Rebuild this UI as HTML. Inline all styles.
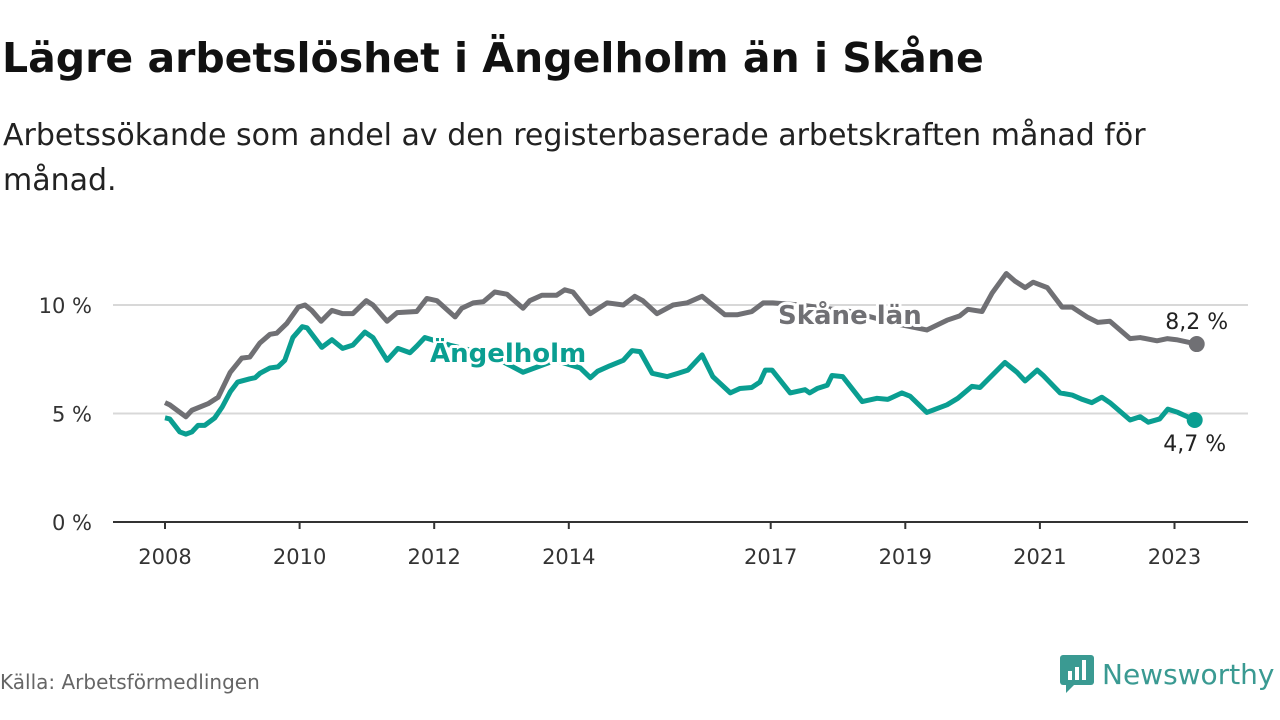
<!DOCTYPE html>
<html><head><meta charset="utf-8"><style>
body{margin:0;width:1280px;height:720px;background:#fff;font-family:"DejaVu Sans","Liberation Sans",sans-serif;overflow:hidden;position:relative}
h1{position:absolute;left:2px;top:34px;margin:0;font-size:41px;font-weight:bold;color:#111;white-space:nowrap}
.sub{position:absolute;left:3px;top:113px;font-size:30px;color:#222;line-height:45px;width:1200px}
.src{position:absolute;left:0;top:670px;font-size:20px;color:#666}
.logo{position:absolute;left:1060px;top:655px;display:flex;align-items:center;font-size:28px;color:#3a9a92}
</style></head><body>
<h1>Lägre arbetslöshet i Ängelholm än i Skåne</h1>
<div class="sub">Arbetssökande som andel av den registerbaserade arbetskraften månad för månad.</div>
<svg id="chart" width="1280" height="720" style="position:absolute;left:0;top:0"></svg>
<div class="src">Källa: Arbetsförmedlingen</div>
<div class="logo"><svg width="34" height="38" viewBox="0 0 34 38"><rect x="0" y="0" width="34" height="30" rx="3" fill="#3a9a92"/><path d="M6 30 L6 38 L14 30Z" fill="#3a9a92"/><rect x="8" y="16" width="4" height="9" fill="#fff"/><rect x="15" y="12" width="4" height="13" fill="#fff"/><rect x="22" y="5" width="4" height="20" fill="#fff"/></svg><span style="margin-left:8px">Newsworthy</span></div>
<script>
const skaneYears=[2008.0,2008.07,2008.31,2008.40,2008.64,2008.79,2008.97,2009.14,2009.26,2009.41,2009.56,2009.66,2009.81,2009.98,2010.08,2010.18,2010.32,2010.48,2010.64,2010.79,2010.99,2011.09,2011.30,2011.45,2011.74,2011.89,2012.04,2012.31,2012.41,2012.58,2012.73,2012.90,2013.08,2013.32,2013.42,2013.60,2013.82,2013.94,2014.06,2014.32,2014.57,2014.81,2014.98,2015.10,2015.31,2015.55,2015.76,2015.98,2016.14,2016.32,2016.50,2016.72,2016.89,2017.03,2017.44,2018.18,2018.92,2019.32,2019.62,2019.81,2019.93,2020.14,2020.29,2020.50,2020.63,2020.78,2020.90,2021.11,2021.33,2021.48,2021.70,2021.86,2022.04,2022.34,2022.49,2022.74,2022.89,2023.03,2023.33];
const skaneValues=[5.5,5.4,4.85,5.15,5.45,5.75,6.9,7.55,7.6,8.25,8.65,8.7,9.15,9.9,10.0,9.75,9.25,9.75,9.6,9.6,10.2,10.0,9.25,9.65,9.7,10.3,10.2,9.45,9.85,10.1,10.15,10.6,10.5,9.85,10.2,10.45,10.45,10.7,10.6,9.6,10.1,10.0,10.4,10.2,9.6,10.0,10.1,10.4,10.0,9.55,9.55,9.7,10.1,10.1,10.0,9.7,9.1,8.85,9.3,9.5,9.8,9.7,10.55,11.45,11.1,10.8,11.05,10.8,9.9,9.9,9.45,9.2,9.25,8.45,8.5,8.35,8.45,8.4,8.2];
const angYears=[2008.0,2008.07,2008.22,2008.31,2008.40,2008.49,2008.59,2008.74,2008.85,2008.97,2009.08,2009.26,2009.34,2009.41,2009.56,2009.68,2009.78,2009.90,2010.04,2010.11,2010.33,2010.48,2010.64,2010.79,2010.97,2011.09,2011.30,2011.46,2011.64,2011.74,2011.86,2012.23,2012.83,2013.32,2013.80,2014.17,2014.32,2014.43,2014.61,2014.81,2014.94,2015.06,2015.24,2015.46,2015.62,2015.77,2015.98,2016.14,2016.40,2016.54,2016.72,2016.84,2016.92,2017.02,2017.29,2017.51,2017.58,2017.69,2017.84,2017.91,2018.07,2018.36,2018.58,2018.74,2018.95,2019.07,2019.32,2019.62,2019.78,2019.99,2020.11,2020.48,2020.66,2020.78,2020.96,2021.05,2021.30,2021.48,2021.63,2021.77,2021.92,2022.04,2022.34,2022.49,2022.61,2022.78,2022.90,2023.05,2023.30];
const angValues=[4.8,4.75,4.15,4.05,4.15,4.45,4.45,4.8,5.3,6.0,6.45,6.6,6.65,6.85,7.1,7.15,7.45,8.5,9.0,8.95,8.05,8.4,8.0,8.15,8.75,8.5,7.45,8.0,7.8,8.1,8.5,8.15,7.7,6.9,7.45,7.1,6.65,6.95,7.2,7.45,7.9,7.85,6.85,6.7,6.85,7.0,7.7,6.7,5.95,6.15,6.2,6.45,7.0,7.0,5.95,6.1,5.95,6.15,6.3,6.75,6.7,5.55,5.7,5.65,5.95,5.8,5.05,5.4,5.7,6.25,6.2,7.35,6.9,6.5,7.0,6.75,5.95,5.85,5.65,5.5,5.75,5.5,4.7,4.85,4.6,4.75,5.2,5.05,4.7];
const yTicks=[0,5,10];
const yTickLabels=["0 %","5 %","10 %"];
const xTicks=[2008,2010,2012,2014,2017,2019,2021,2023];
const NS="http://www.w3.org/2000/svg";
const svg=document.getElementById('chart');
const xs=y=>165+(y-2008)*67.3;
const ys=v=>522-v*21.7;
function mk(t,a,p){const e=document.createElementNS(NS,t);for(const k in a)e.setAttribute(k,a[k]);(p||svg).appendChild(e);return e;}
yTicks.forEach((t,i)=>{
  const g=mk('line',{x1:113,x2:1248,y1:ys(t),y2:ys(t),stroke:t===0?'#333':'#d8d8d8','stroke-width':2});
  
  
  const l=mk('text',{x:92,y:ys(t)+8,'text-anchor':'end','font-size':21,fill:'#333'});
  l.textContent=yTickLabels[i];
  
  
});
xTicks.forEach(t=>{
  const tk=mk('line',{x1:xs(t),x2:xs(t),y1:522,y2:529,stroke:'#333','stroke-width':2});
  
  
  const l=mk('text',{x:xs(t),y:564,'text-anchor':'middle','font-size':21,fill:'#333'});
  l.textContent=t;
  
  
});
function line(yrs,vals,col,name){
  const p=mk('polyline',{points:yrs.map((y,i)=>xs(y)+','+ys(vals[i])).join(' '),fill:'none',stroke:col,'stroke-width':5,'stroke-linejoin':'round'});
  
  
  const n=yrs.length-1;
  const c=mk('circle',{cx:xs(yrs[n]),cy:ys(vals[n]),r:8,fill:col});
  
  
}
line(skaneYears,skaneValues,'#707074','skane');
line(angYears,angValues,'#0a9e91','angelholm');
function label(x,y,txt,col,size,weight,name,anchor){
  const t=mk('text',{x:x,y:y,fill:col,'font-size':size,'font-weight':weight,stroke:'#fff','stroke-width':6,'paint-order':'stroke','stroke-linejoin':'round','text-anchor':anchor||'start'});
  t.textContent=txt;
  
  
}
label(778,324,'Skåne län','#707074',26,'bold','skane-series-label');
label(430,362,'Ängelholm','#0a9e91',26,'bold','angelholm-series-label');
const sn=skaneValues.length-1, an=angValues.length-1;
label(xs(skaneYears[sn]),ys(skaneValues[sn])-15,skaneValues[sn].toFixed(1).replace('.',',')+' %','#222',22,'normal','skane-end-value','middle');
label(xs(angYears[an]),ys(angValues[an])+31,angValues[an].toFixed(1).replace('.',',')+' %','#222',22,'normal','angelholm-end-value','middle');
</script>
</body></html>
